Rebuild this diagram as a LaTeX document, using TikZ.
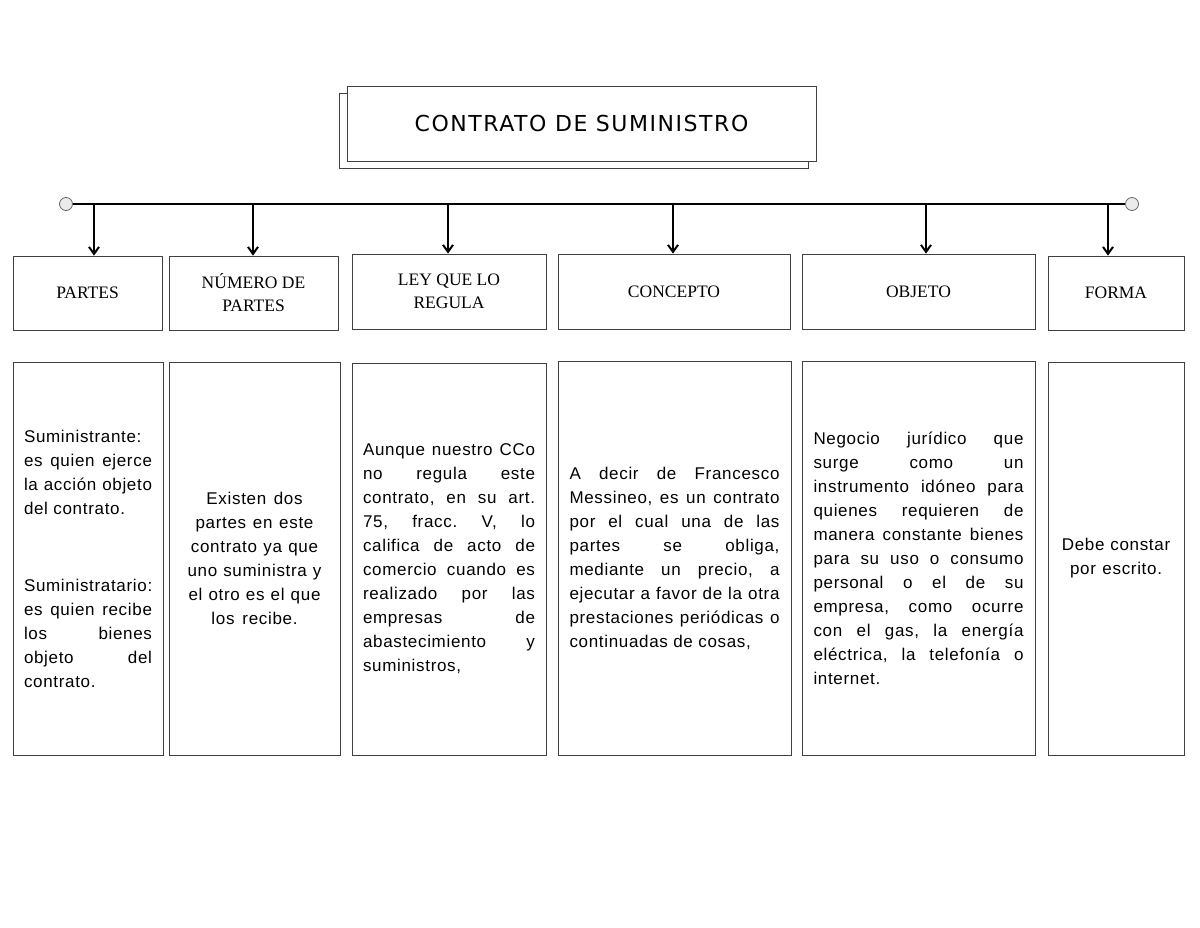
\documentclass[tikz,border=0pt]{standalone}
\usepackage{fontspec}
\setmainfont{Liberation Sans}
\newfontfamily\bodyfont{Liberation Sans}[LetterSpace=4]
\newfontfamily\headfont{Liberation Serif}
\newfontfamily\titlefont{DejaVu Sans}[LetterSpace=7]
\usetikzlibrary{arrows.meta}
\newlength\jw
\newcommand\jl[1]{\leavevmode\hbox to \jw{\spaceskip=\fontdimen2\font plus 1fil\xspaceskip=\spaceskip\relax #1}}
\newcommand\natsp{\frenchspacing\spaceskip=0pt\xspaceskip=0pt\relax}
\tikzset{
  boxline/.style={draw=black!75, line width=0.8pt, fill=white},
  head/.style={boxline, font=\headfont\fontsize{17.5}{23}\selectfont, align=center, inner sep=0pt},
  body/.style={boxline, font=\bodyfont\fontsize{17}{24}\selectfont, inner sep=0pt},
  arr/.style={line width=2pt, -{Straight Barb[length=7pt,width=10pt,line width=2pt]}},
  endpt/.style={circle, draw=black!60, fill=black!8, minimum size=13pt, inner sep=0pt, line width=0.8pt},
  bus/.style={line width=2.5pt},
}
\begin{document}
\begin{tikzpicture}[x=1pt,y=-1pt]
\useasboundingbox (0,0) rectangle (1200,927);
% title
\node[boxline, minimum width=469pt, minimum height=75pt, inner sep=0pt] (shadow) at (573.5,130.5) {};
\node[boxline, minimum width=469pt, minimum height=75pt, inner sep=0pt, font=\titlefont\fontsize{22}{26}\selectfont] (title) at (581.5,123.5) {CONTRATO DE SUMINISTRO};
% bus
\node[endpt] (cl) at (66,204) {};
\node[endpt] (cr) at (1132,204) {};
\draw[bus] (cl) -- (cr);
% headers
\node[head, minimum width=149pt, minimum height=74pt] (h1) at (87.5,293) {PARTES};
\node[head, minimum width=169pt, minimum height=74pt] (h2) at (253.5,293) {NÚMERO DE\\PARTES};
\node[head, minimum width=194pt, minimum height=75pt] (h3) at (449,291.5) {LEY QUE LO\\REGULA};
\node[head, minimum width=232pt, minimum height=75pt] (h4) at (674,291.5) {CONCEPTO};
\node[head, minimum width=233pt, minimum height=75pt] (h5) at (918.5,291.5) {OBJETO};
\node[head, minimum width=136pt, minimum height=74pt] (h6) at (1116,293) {FORMA};
% arrows
\coordinate (a1) at (94,204);
\coordinate (a2) at (253,204);
\coordinate (a3) at (448,204);
\coordinate (a4) at (673,204);
\coordinate (a5) at (926,204);
\coordinate (a6) at (1108,204);
\draw[arr] (a1) -- (a1 |- h1.north);
\draw[arr] (a2) -- (a2 |- h2.north);
\draw[arr] (a3) -- (a3 |- h3.north);
\draw[arr] (a4) -- (a4 |- h4.north);
\draw[arr] (a5) -- (a5 |- h5.north);
\draw[arr] (a6) -- (a6 |- h6.north);
% bodies
\node[body, minimum width=150pt, minimum height=393pt, text width=128pt, align=left] (b1) at (88,558.5) {\natsp\setlength\jw{128pt}%
Suministrante:\\
\jl{es quien ejerce}\\
\jl{la acción objeto}\\
del contrato.\\[53pt]
\jl{Suministratario:}\\
\jl{es quien recibe}\\
\jl{los bienes}\\
\jl{objeto del}\\
contrato.};
\node[body, minimum width=171pt, minimum height=393pt, text width=150pt, align=center] (b2) at (254.5,558.5) {\natsp
Existen dos\\partes en este\\contrato ya que\\uno suministra y\\el otro es el que\\los recibe.};
\node[body, minimum width=194pt, minimum height=392pt, text width=172pt, align=left] (b3) at (449,559) {\natsp\setlength\jw{172pt}%
\jl{Aunque nuestro CCo}\\
\jl{no regula este}\\
\jl{contrato, en su art.}\\
\jl{75, fracc. V, lo}\\
\jl{califica de acto de}\\
\jl{comercio cuando es}\\
\jl{realizado por las}\\
\jl{empresas de}\\
\jl{abastecimiento y}\\
suministros,};
\node[body, minimum width=233pt, minimum height=394pt, text width=210pt, align=left] (b4) at (674.5,558) {\natsp\setlength\jw{210pt}%
\jl{A decir de Francesco}\\
\jl{Messineo, es un contrato}\\
\jl{por el cual una de las}\\
\jl{partes se obliga,}\\
\jl{mediante un precio, a}\\
\jl{ejecutar a favor de la otra}\\
\jl{prestaciones periódicas o}\\
continuadas de cosas,};
\node[body, minimum width=233pt, minimum height=394pt, text width=210pt, align=left] (b5) at (918.5,558) {\natsp\setlength\jw{210pt}%
\jl{Negocio jurídico que}\\
\jl{surge como un}\\
\jl{instrumento idóneo para}\\
\jl{quienes requieren de}\\
\jl{manera constante bienes}\\
\jl{para su uso o consumo}\\
\jl{personal o el de su}\\
\jl{empresa, como ocurre}\\
\jl{con el gas, la energía}\\
\jl{eléctrica, la telefonía o}\\
internet.};
\node[body, minimum width=136pt, minimum height=393pt, text width=120pt, align=center] (b6) at (1116,558.5) {\natsp
Debe constar\\por escrito.};
\end{tikzpicture}
\end{document}
